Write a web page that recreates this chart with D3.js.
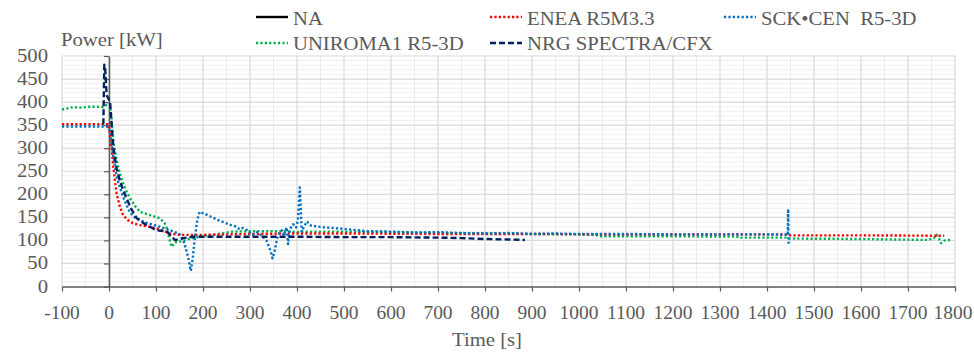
<!DOCTYPE html>
<html><head><meta charset="utf-8">
<script src="https://cdn.jsdelivr.net/npm/d3@7"></script>
<style>body{margin:0;background:#fff}svg{display:block}text{font-family:"Liberation Serif","Times New Roman",serif;font-size:18px;fill:#595959;white-space:pre}</style>
</head><body><svg id="c" width="974" height="353"></svg>
<script>
// ---- data ----
const xTicks = d3.range(-100, 1801, 100);
const yTicks = d3.range(0, 501, 50);
const seriesNames = ["NA", "ENEA R5M3.3", "SCK\u2022CEN  R5-3D", "UNIROMA1 R5-3D", "NRG SPECTRA/CFX"];
const naData = [];
const eneaData = [[-100,352],[-2,352],[0,350],[3,320],[6,296],[9,260],[16,203],[23,173],[30,155],[38,146],[45,140],[55,136],[66,133],[85,130],[101,126],[115,121],[130,115],[151,112],[200,112],[300,114],[400,115],[500,115],[700,114],[900,114],[1100,113],[1300,113],[1445,113],[1450,111],[1600,111],[1777,110]];
const sckData = [[-100,347],[-5,347],[0,345],[3,330],[8,290],[16,240],[23,215],[30,195],[38,175],[45,160],[55,150],[66,144],[80,138],[101,132],[115,127],[130,122],[145,116],[152,112],[160,95],[168,65],[174,34],[178,60],[183,108],[188,145],[193,162],[205,157],[230,145],[260,133],[270,130],[278,124],[285,127],[295,122],[305,112],[315,118],[325,110],[335,100],[343,79],[348,61],[352,75],[358,105],[362,116],[368,122],[372,110],[378,128],[381,92],[385,125],[392,135],[398,128],[402,144],[404,180],[406,215],[408,170],[410,119],[415,130],[421,141],[430,132],[445,130],[460,128],[477,127],[500,125],[548,120],[600,119],[650,117],[700,118],[750,116],[800,115],[850,116],[900,114],[950,115],[1000,114],[1100,114],[1200,113],[1300,113],[1400,113],[1444,112],[1445,168],[1446,88]];
const uniromaData = [[-100,384],[-85,387],[-77,389],[-60,388],[-40,390],[-25,390],[-13,389],[-5,394],[2,394],[5,368],[9,318],[16,274],[23,245],[30,224],[38,205],[45,191],[55,175],[66,162],[87,155],[108,148],[118,138],[122,130],[128,105],[133,86],[138,92],[143,97],[155,98],[172,104],[193,108],[220,112],[245,116],[264,119],[300,120],[371,120],[400,118],[425,119],[500,119],[600,118],[700,116],[800,115],[900,114],[1000,113],[1037,112],[1040,109],[1200,109],[1343,108],[1345,106],[1442,106],[1445,104],[1600,103],[1743,101],[1755,105],[1761,112],[1766,104],[1770,94],[1778,100],[1791,101]];
const nrgData = [[-12,352],[-11,420],[-10,481],[-8,470],[-5,415],[0,405],[2,404],[5,360],[9,303],[16,257],[23,230],[30,209],[38,190],[45,173],[52,160],[59,148],[70,140],[80,133],[90,128],[101,122],[110,121],[123,119],[132,110],[140,101],[150,102],[158,105],[179,108],[250,108],[300,108],[400,108],[500,107],[600,107],[700,106],[750,105],[800,103],[850,102],[885,101]];

// ---- layout ----
const svg = d3.select("#c");
const x = d3.scaleLinear().domain([-100, 1800]).range([62, 955]);
const y = d3.scaleLinear().domain([0, 500]).range([286.5, 56]);
function txt(px, py, s, anchor, sx) {
  return svg.append("text").attr("transform", `translate(${px},${py}) scale(${sx || 1.15},1)`)
    .attr("text-anchor", anchor || "start").text(s);
}

// grid
const grid = svg.append("g");
grid.selectAll(".hm").data(d3.range(0, 501, 10).filter(v => v % 50)).enter().append("line")
  .attr("x1", x(-100)).attr("x2", x(1800)).attr("y1", d => y(d)).attr("y2", d => y(d))
  .attr("stroke", "#f0f0f0").attr("stroke-width", 1);
grid.selectAll(".vm").data(d3.range(-50, 1800, 100)).enter().append("line")
  .attr("x1", d => x(d)).attr("x2", d => x(d)).attr("y1", y(0)).attr("y2", y(500))
  .attr("stroke", "#ececec").attr("stroke-width", 1);
grid.selectAll(".hM").data(yTicks.filter(v => v > 0)).enter().append("line")
  .attr("x1", x(-100)).attr("x2", x(1800)).attr("y1", d => y(d)).attr("y2", d => y(d))
  .attr("stroke", "#d9d9d9").attr("stroke-width", 1.2);
grid.selectAll(".vM").data(xTicks).enter().append("line")
  .attr("x1", d => x(d)).attr("x2", d => x(d)).attr("y1", y(0)).attr("y2", y(500))
  .attr("stroke", "#d9d9d9").attr("stroke-width", 1.2);

// axes
const xa = svg.append("g").attr("transform", `translate(0,${y(0)})`)
  .call(d3.axisBottom(x).tickValues(xTicks).tickSize(5).tickFormat("").tickSizeOuter(0));
xa.select(".domain").attr("stroke", "#595959").attr("stroke-width", 1.5);
xa.selectAll(".tick line").attr("stroke", "#595959").attr("stroke-width", 1.2);
const ya = svg.append("g").attr("transform", `translate(${x(0)},0)`)
  .call(d3.axisLeft(y).tickValues(yTicks).tickSize(5).tickFormat("").tickSizeOuter(0));
ya.select(".domain").attr("stroke", "#595959").attr("stroke-width", 1.5);
ya.selectAll(".tick line").attr("stroke", "#595959").attr("stroke-width", 1.2);

// tick labels
xTicks.forEach(t => txt(t === 1800 ? x(t) - 2 : x(t), 319, String(t), "middle", 1.08));
yTicks.forEach(v => txt(48, y(v) + 6, String(v), "end"));
txt(61, 46, "Power [kW]");
txt(487, 346, "Time [s]", "middle");

// series
svg.append("clipPath").attr("id", "pc").append("rect")
  .attr("x", x(-100)).attr("y", y(500) - 5).attr("width", x(1800) - x(-100)).attr("height", y(0) - y(500) + 10);
const line = d3.line().x(d => x(d[0])).y(d => y(d[1]));
const styles = [
  {data: naData, color: "#000000", dash: null},
  {data: eneaData, color: "#ff0000", dash: "2.2,2.2"},
  {data: sckData, color: "#0070c0", dash: "2.2,2.2"},
  {data: uniromaData, color: "#00b050", dash: "2.2,2.2"},
  {data: nrgData, color: "#002060", dash: "6,3"}
];
const pg = svg.append("g").attr("clip-path", "url(#pc)");
[3, 1, 2, 4, 0].forEach(i => {
  const s = styles[i];
  if (!s.data.length) return;
  pg.append("path").attr("d", line(s.data)).attr("fill", "none")
    .attr("stroke", s.color).attr("stroke-width", 2.4)
    .attr("stroke-dasharray", s.dash).attr("stroke-linejoin", "round");
});

// legend
const legPos = [[256, 17], [490, 17], [724, 17], [256, 43], [490, 43]];
seriesNames.forEach((n, i) => {
  const [lx, ly] = legPos[i];
  svg.append("line").attr("x1", lx).attr("x2", lx + 32).attr("y1", ly).attr("y2", ly)
    .attr("stroke", styles[i].color).attr("stroke-width", 2.4).attr("stroke-dasharray", styles[i].dash);
  txt(lx + 37, ly + 7 + (i < 3 ? 1 : 0), n);
});
</script></body></html>
